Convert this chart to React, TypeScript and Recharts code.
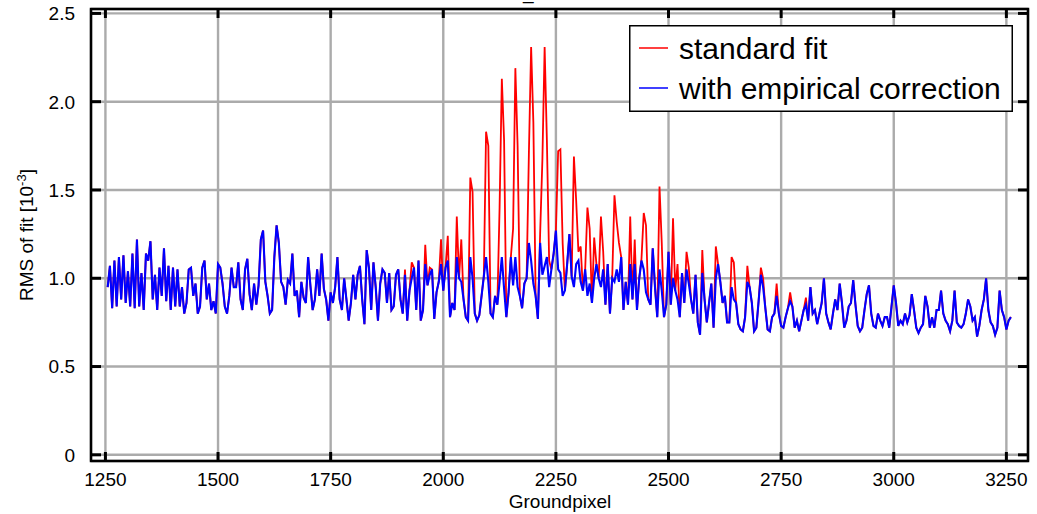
import { LineChart, Line, XAxis, YAxis, CartesianGrid, ReferenceArea, Legend } from 'recharts';

// RMS of the fit per ground pixel, sampled every 5 pixels from 1255 on
const FIRST_PIXEL = 1255;
const PIXEL_STEP = 5;

// fit with empirical correction (also the standard fit wherever no spike is listed below)
const corrected = [
    0.95, 1.07, 0.83, 1.1, 0.84, 1.12, 0.88, 1.13, 0.86, 1.04,
    0.84, 1.14, 0.83, 1.22, 0.84, 1.03, 0.82, 1.14, 1.1, 1.21,
    0.88, 1.02, 0.82, 1.06, 0.9, 1.17, 0.87, 1.07, 0.82, 1.06,
    0.84, 1.05, 0.84, 0.95, 0.8, 0.86, 1.05, 1.06, 0.9, 0.97,
    0.8, 0.84, 1.06, 1.1, 0.88, 0.97, 0.82, 0.87, 0.8, 1.08,
    1.06, 0.97, 0.84, 0.8, 0.9, 1.06, 0.95,
    0.95, 1.09, 0.88, 0.82, 1.05, 1.11, 0.91, 0.82, 0.97, 0.85,
    0.96, 1.22, 1.27, 0.98, 0.9, 0.8, 0.82, 1.12, 1.3, 1.2,
    0.98, 0.95, 0.85, 0.99, 0.97, 1.14, 0.9, 0.93, 0.78, 0.98,
    0.89, 0.86, 1.12, 0.96, 0.82, 0.88, 1.05, 0.9, 1.14, 0.94,
    0.88, 0.76, 0.92, 0.86, 0.95, 1.12, 0.88, 0.82, 1.0, 0.88,
    0.76, 0.86, 1.02, 0.88, 1.02, 1.07, 0.88, 0.74,
    1.16, 1.06, 0.82, 1.09, 0.95, 0.76, 0.97, 1.05, 1.03, 0.86,
    1.03, 0.82, 0.84, 1.02, 1.05, 0.88, 0.8, 1.02, 0.76, 0.93,
    1.0, 1.06, 0.82, 1.1, 0.76, 0.82, 1.08, 0.96, 1.02, 1.05,
    0.77, 0.92, 0.98, 1.08, 0.93, 1.06, 1.1, 0.78, 0.86, 0.82,
    1.12, 1.0, 0.98, 0.88, 0.78, 0.76, 1.12, 1.0, 0.8, 0.76,
    0.79, 0.9, 1.01, 1.12, 0.98, 0.8, 0.78, 0.9,
    0.85, 0.98, 1.12, 0.94, 0.78, 0.92, 1.12, 0.96, 1.12, 0.95,
    0.9, 0.83, 0.97, 1.0, 1.2, 1.1, 0.97, 0.9, 0.77, 1.2,
    1.02, 1.07, 1.12, 0.95, 1.05, 1.14, 1.27, 1.05, 1.03, 0.9,
    0.93, 1.08, 1.25, 1.01, 0.95, 1.08, 1.1, 0.98, 0.93, 1.05,
    0.9, 0.97, 0.86, 1.0, 1.08, 1.0, 0.95, 1.05, 0.85, 1.08,
    0.8, 1.0, 0.98, 1.05, 0.98, 1.12, 0.82,
    0.98, 0.85, 1.08, 0.88, 1.08, 0.82, 1.0, 1.1, 1.05, 0.92,
    0.88, 0.85, 1.17, 0.95, 0.78, 1.05, 0.93, 0.78, 0.85, 1.15,
    0.85, 1.0, 0.93, 0.88, 0.78, 1.03, 0.86, 1.05, 0.97, 0.88,
    0.8, 1.02, 0.75, 0.68, 1.03, 0.88, 0.75, 0.86, 0.97, 0.72,
    1.0, 1.08, 0.98, 0.86, 0.9, 0.75, 0.75, 0.95, 0.88, 0.86,
    0.74, 0.71, 0.7, 0.78, 0.98, 0.95, 0.86, 0.7,
    0.72, 0.87, 1.02, 0.95, 0.83, 0.71, 0.7, 0.78, 0.8, 0.9,
    0.8, 0.73, 0.72, 0.78, 0.83, 0.87, 0.84, 0.72, 0.76, 0.7,
    0.76, 0.82, 0.85, 0.76, 0.95, 0.8, 0.82, 0.74, 0.8, 0.86,
    1.0, 0.8, 0.75, 0.71, 0.8, 0.88, 0.82, 0.97, 0.86, 0.72,
    0.76, 0.84, 0.86, 0.99, 0.85, 0.73, 0.7, 0.72, 0.82, 0.91,
    0.96, 0.8, 0.73, 0.72, 0.8, 0.76, 0.73,
    0.78, 0.78, 0.72, 0.84, 0.96, 0.86, 0.73, 0.76, 0.74, 0.8,
    0.75, 0.79, 0.91, 0.82, 0.72, 0.69, 0.72, 0.74, 0.9, 0.84,
    0.72, 0.78, 0.72, 0.82, 0.82, 0.93, 0.8, 0.76, 0.74, 0.7,
    0.76, 0.93, 0.75, 0.73, 0.72, 0.74, 0.8, 0.88, 0.84, 0.76,
    0.78, 0.67, 0.73, 0.82, 0.88, 1.0, 0.82, 0.75, 0.73, 0.68,
    0.72, 0.93, 0.82, 0.78, 0.71, 0.76, 0.78,
];

// pixels where the standard fit sticks out above the corrected one
const spikePixels = [
    1915, 1930, 1960, 1970, 1995, 2010, 2030, 2040, 2060, 2065,
    2095, 2100, 2125, 2130, 2135, 2155, 2160, 2165, 2190, 2195,
    2200, 2215, 2220, 2225, 2230, 2235, 2255, 2260, 2265, 2290,
    2295, 2300, 2305, 2320, 2325, 2335, 2350, 2355, 2380, 2385,
    2390, 2415, 2425, 2440, 2445, 2450, 2480, 2485, 2510, 2520,
    2540, 2545, 2575, 2605, 2640, 2645, 2675, 2705, 2710, 2740,
    2770, 2805,
];
const spikeValues = [
    1.05, 1.09, 1.19, 1.06, 1.22, 1.24, 1.35, 1.22, 1.57, 1.49,
    1.83, 1.75, 1.4, 2.13, 1.78, 1.28, 2.19, 1.75, 1.7, 2.31,
    1.88, 1.25, 1.67, 2.31, 1.78, 1.1, 1.72, 1.73, 1.2, 1.69,
    1.44, 1.15, 1.18, 1.4, 1.28, 1.23, 1.35, 1.15, 1.47, 1.32,
    1.2, 1.35, 1.22, 1.11, 1.37, 1.3, 1.52, 1.2, 1.34, 1.08,
    1.15, 1.06, 1.16, 1.18, 1.12, 1.09, 1.07, 1.06, 1.0, 0.97,
    0.92, 0.89,
];

const xTicks = [1250, 1500, 1750, 2000, 2250, 2500, 2750, 3000, 3250];
const yTicks = [0, 0.5, 1, 1.5, 2, 2.5];

const data = corrected.map((value, i) => {
    const pixel = FIRST_PIXEL + i * PIXEL_STEP;
    const k = spikePixels.indexOf(pixel);
    return { pixel, corrected: value, standard: k >= 0 ? spikeValues[k] : value };
});

const FONT = '"Liberation Sans", Arial, Helvetica, sans-serif';
const WIDTH = 1037;
const HEIGHT = 514;
const PLOT_LEFT = 91;
const PLOT_RIGHT = 1028;
const PLOT_TOP = 9;
const PLOT_BOTTOM = 461;
const TICK_LEN = 9;

function XTick({ x, payload }: any) {
    return (
        <g>
            <line x1={x} x2={x} y1={PLOT_BOTTOM} y2={PLOT_BOTTOM - TICK_LEN} stroke="#000" strokeWidth={3} />
            <line x1={x} x2={x} y1={PLOT_TOP} y2={PLOT_TOP + TICK_LEN} stroke="#000" strokeWidth={3} />
            <text x={x} y={486} textAnchor="middle" fontSize={19} fontFamily={FONT} fill="#000">
                {payload.value}
            </text>
        </g>
    );
}

function YTick({ y, payload }: any) {
    const v = payload.value;
    return (
        <g>
            <line x1={PLOT_LEFT} x2={PLOT_LEFT + TICK_LEN + 1} y1={y} y2={y} stroke="#000" strokeWidth={3} />
            <line x1={PLOT_RIGHT} x2={PLOT_RIGHT - TICK_LEN - 1} y1={y} y2={y} stroke="#000" strokeWidth={3} />
            <text x={75} y={y} dy="0.36em" textAnchor="end" fontSize={19} fontFamily={FONT} fill="#000">
                {v === 0 ? '0' : v.toFixed(1)}
            </text>
        </g>
    );
}

function FitLegend({ payload }: any) {
    return (
        <svg width={384} height={87} style={{ display: 'block' }}>
            <rect x={0.75} y={0.75} width={382.5} height={85.5} fill="#fff" stroke="#000" strokeWidth={1.5} />
            {(payload || []).map((entry: any, i: number) => (
                <g key={entry.value}>
                    <line x1={10} x2={39} y1={23 + i * 40} y2={23 + i * 40} stroke={entry.color} strokeWidth={1.5} />
                    <text x={50} y={34 + i * 40} fontSize={30} fontFamily={FONT} fill="#000">
                        {entry.value}
                    </text>
                </g>
            ))}
        </svg>
    );
}

export default function App() {
    return (
        <div style={{ position: 'absolute', left: 0, top: 0, fontFamily: FONT }}>
            <LineChart
                width={WIDTH}
                height={HEIGHT}
                data={data}
                margin={{ top: PLOT_TOP, right: WIDTH - PLOT_RIGHT, bottom: HEIGHT - PLOT_BOTTOM - 1, left: PLOT_LEFT - 1 }}
            >
                <CartesianGrid stroke="#ababab" strokeWidth={2.4} />
                <XAxis
                    dataKey="pixel"
                    type="number"
                    domain={[1218, 3298]}
                    ticks={xTicks}
                    interval={0}
                    height={1}
                    tickSize={0}
                    axisLine={false}
                    tick={<XTick />}
                    allowDataOverflow
                />
                <YAxis
                    type="number"
                    domain={[-0.035, 2.525]}
                    ticks={yTicks}
                    interval={0}
                    width={1}
                    tickSize={0}
                    axisLine={false}
                    tick={<YTick />}
                    allowDataOverflow
                />
                <ReferenceArea x1={1218} x2={3298} y1={-0.035} y2={2.525} fill="none" stroke="#000" strokeWidth={2.5} />
                <Line
                    dataKey="standard"
                    name="standard fit"
                    type="linear"
                    stroke="#ff0000"
                    strokeWidth={1.8}
                    dot={false}
                    isAnimationActive={false}
                />
                <Line
                    dataKey="corrected"
                    name="with empirical correction"
                    type="linear"
                    stroke="#0000ff"
                    strokeWidth={2.1}
                    dot={false}
                    isAnimationActive={false}
                />
                <Legend
                    layout="horizontal"
                    align="center"
                    verticalAlign="middle"
                    content={<FitLegend />}
                    wrapperStyle={{ left: 629, top: 25, width: 384, height: 87 }}
                />
                <text x={523} y={-1.5} fontSize={19} fontFamily={FONT} fill="#000">_</text>
                <text x={560} y={508} textAnchor="middle" fontSize={19} fontFamily={FONT} fill="#000">
                    Groundpixel
                </text>
                <text
                    x={33}
                    y={235}
                    transform="rotate(-90 33 235)"
                    textAnchor="middle"
                    fontSize={19}
                    fontFamily={FONT}
                    fill="#000"
                >
                    RMS of fit [10<tspan dy={-7} fontSize={13}>-3</tspan><tspan dy={7}>]</tspan>
                </text>
            </LineChart>
        </div>
    );
}
